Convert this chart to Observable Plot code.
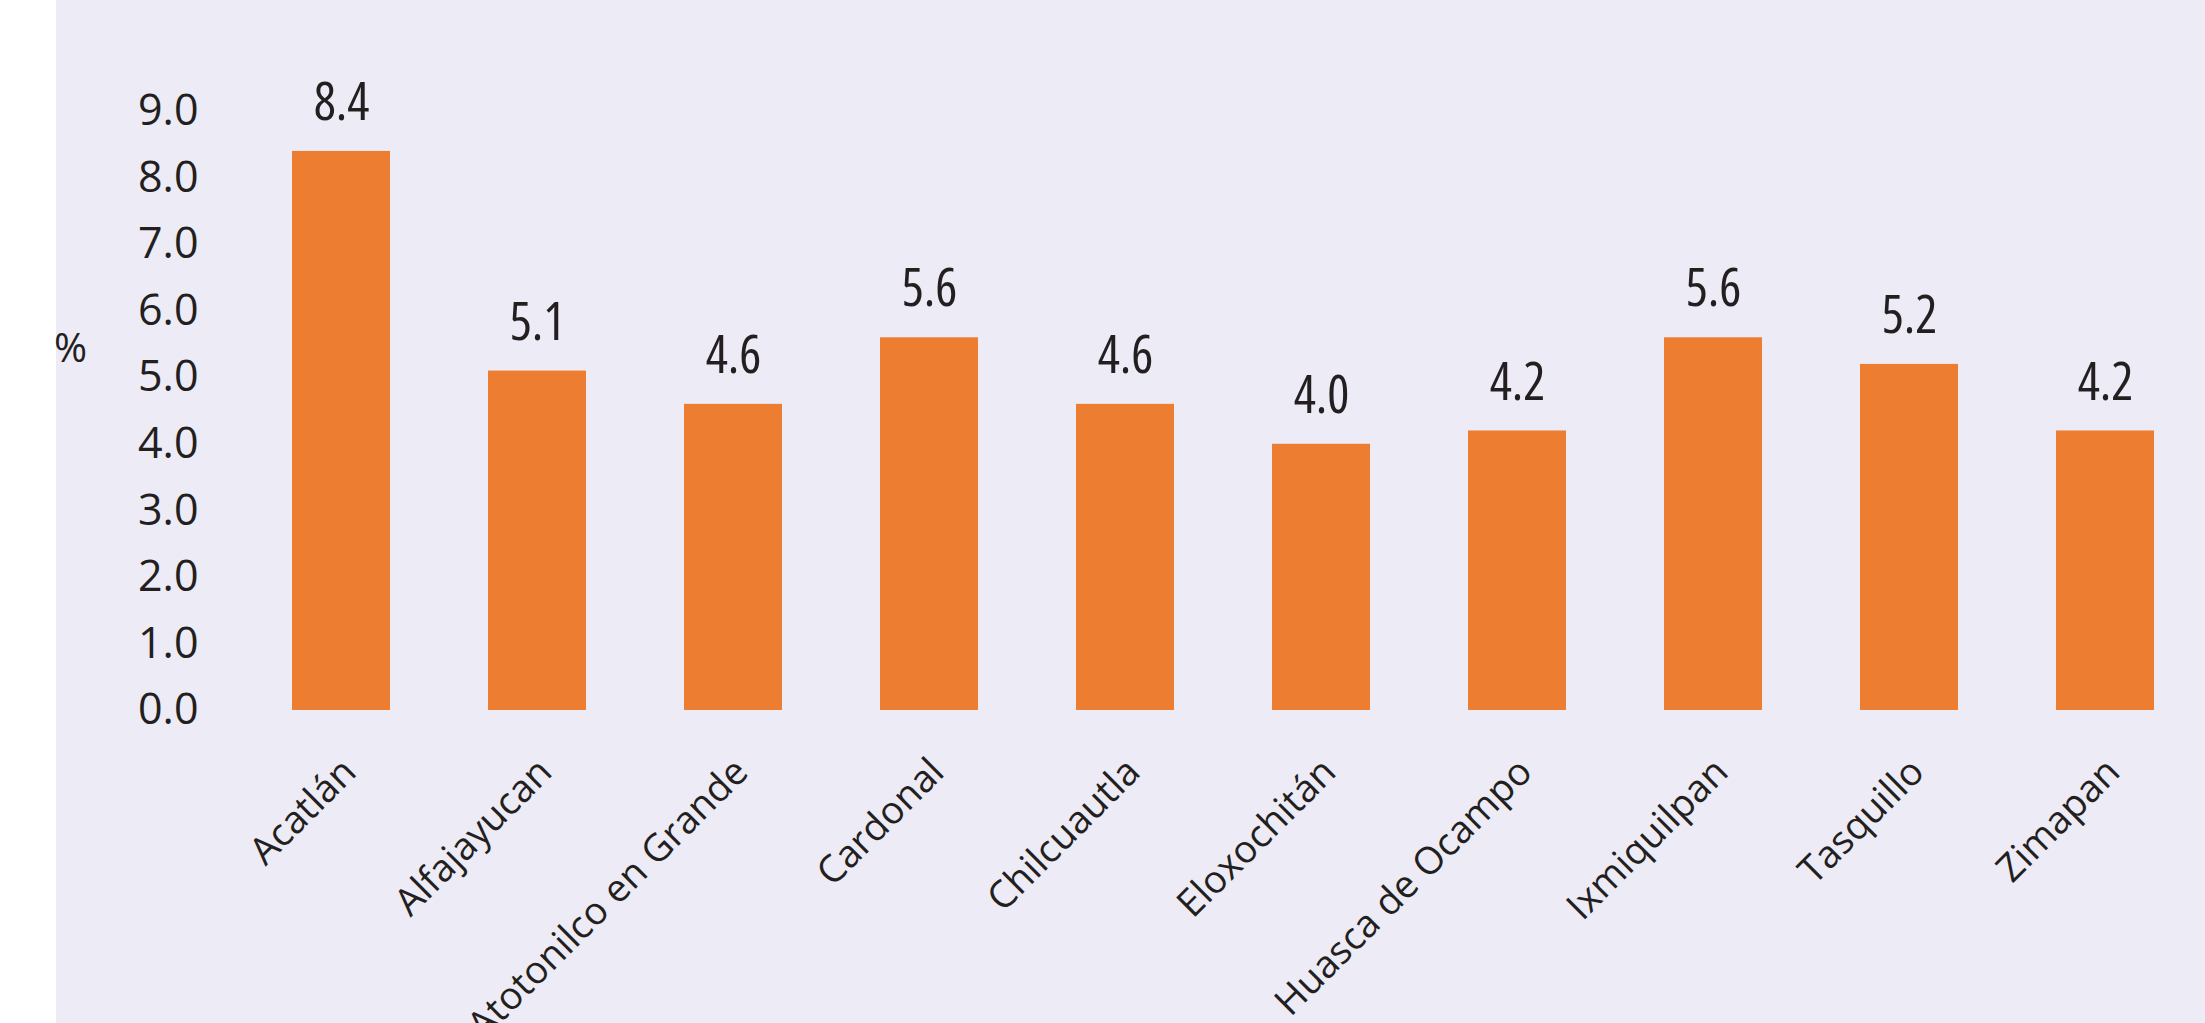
<!DOCTYPE html>
<html>
<head>
<meta charset="utf-8">
<script src="https://cdn.jsdelivr.net/npm/d3@7"></script>
<script src="https://cdn.jsdelivr.net/npm/@observablehq/plot@0.6"></script>
<style>
  html, body { margin: 0; padding: 0; background: #ffffff; }
  #chart svg { display: block; }
  .valores text { font-stretch: 75%; }
</style>
</head>
<body>
<div id="chart"></div>
<script>
const municipios = ["Acatlán", "Alfajayucan", "Atotonilco en Grande", "Cardonal", "Chilcuautla", "Eloxochitán", "Huasca de Ocampo", "Ixmiquilpan", "Tasquillo", "Zimapan"];
const valores = [8.4, 5.1, 4.6, 5.6, 4.6, 4.0, 4.2, 5.6, 5.2, 4.2];
const yTicks = [0, 1, 2, 3, 4, 5, 6, 7, 8, 9];
const unidad = "%";

const data = municipios.map((m, i) => ({municipio: m, valor: valores[i]}));

const textColor = "#231F20";
const chart = Plot.plot({
  width: 2205,
  height: 1023,
  marginLeft: 240,
  marginRight: 0,
  marginTop: 111,
  marginBottom: 313,
  style: {
    background: "linear-gradient(to right, #ffffff 56px, #EDEBF5 56px)",
    color: textColor,
    fontFamily: "'Open Sans', sans-serif"
  },
  x: {domain: municipios, paddingInner: 0.5, paddingOuter: 0.25, axis: null},
  y: {domain: [0, 9], axis: null},
  marks: [
    Plot.axisY({
      ticks: yTicks,
      tickFormat: d3.format(".1f"),
      tickSize: 0,
      tickPadding: 42,
      fontSize: 43,
      label: null,
      fontFamily: "'Open Sans', sans-serif",
      fill: textColor
    }),
    Plot.barY(data, {x: "municipio", y: "valor", fill: "#ED7D31"}),
    Plot.text(data, {
      x: "municipio", y: "valor",
      text: d => d3.format(".1f")(d.valor),
      dy: -48,
      fontSize: 52,
      className: "valores",
      fontFamily: "'Open Sans', sans-serif",
      fill: textColor
    }),
    Plot.text(data, {
      x: "municipio", y: () => 0,
      text: "municipio",
      rotate: -45,
      textAnchor: "end",
      lineAnchor: "middle",
      dx: 8, dy: 55,
      fontSize: 38,
      fontFamily: "'Open Sans', sans-serif",
      fill: textColor
    }),
    Plot.text([unidad], {
      frameAnchor: "left",
      text: d => d,
      dx: -170, dy: -62,
      fontSize: 40,
      textAnchor: "middle",
      fontFamily: "'Open Sans', sans-serif",
      fill: textColor
    })
  ]
});
document.getElementById("chart").appendChild(chart);
</script>
</body>
</html>
